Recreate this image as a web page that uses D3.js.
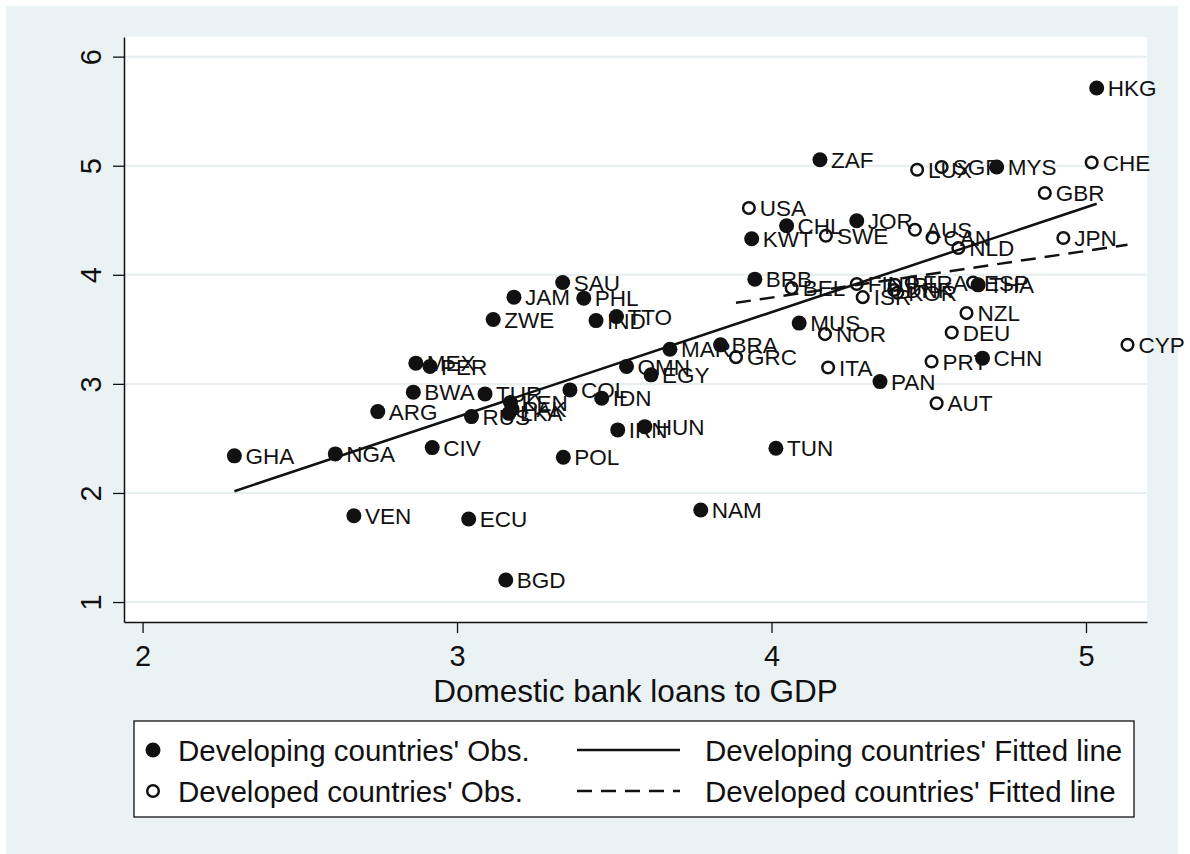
<!DOCTYPE html>
<html>
<head>
<meta charset="utf-8">
<script src="https://cdn.jsdelivr.net/npm/d3@7"></script>
<style>
  body { margin: 0; background: #fff; }
  svg text { font-family: "Liberation Sans", Arial, sans-serif; fill: #111; }
</style>
</head>
<body>
<svg id="chart"></svg>
<script>
// developing countries (filled markers)
const devNames = ['HKG','ZAF','MYS','CHL','JOR','KWT','BRB','SAU','JAM','PHL','ZWE','IND','TTO','MAR','OMN','EGY','BRA','COL','IDN','TUR','KEN','PAK','LKA','RUS','MEX','PER','BWA','ARG','CIV','GHA','NGA','IRN','HUN','POL','VEN','ECU','BGD','NAM','TUN','MUS','PAN','CHN','THA'];
const devX = [5.034,4.154,4.716,4.048,4.271,3.937,3.947,3.336,3.181,3.403,3.115,3.442,3.507,3.677,3.539,3.617,3.838,3.359,3.46,3.089,3.17,3.175,3.165,3.046,2.869,2.914,2.861,2.748,2.921,2.292,2.613,3.511,3.597,3.338,2.672,3.037,3.155,3.775,4.014,4.088,4.345,4.671,4.657];
const devY = [5.713,5.055,4.988,4.45,4.495,4.33,3.96,3.93,3.795,3.786,3.59,3.58,3.617,3.318,3.16,3.083,3.358,2.945,2.869,2.908,2.83,2.77,2.73,2.70,3.19,3.16,2.924,2.746,2.416,2.34,2.358,2.578,2.608,2.328,1.791,1.761,1.202,1.844,2.41,3.557,3.021,3.236,3.908];

// developed countries (hollow markers)
const advNames = ['LUX','SGP','CHE','GBR','USA','SWE','AUS','CAN','NLD','JPN','BEL','FIN','IRL','FRA','ESP','ISR','DNK','KOR','NZL','DEU','NOR','ITA','PRT','AUT','GRC','CYP'];
const advX = [4.463,4.541,5.018,4.869,3.928,4.173,4.456,4.512,4.594,4.928,4.064,4.271,4.392,4.446,4.641,4.29,4.39,4.40,4.62,4.573,4.17,4.18,4.509,4.525,3.887,5.132];
const advY = [4.963,4.988,5.03,4.75,4.612,4.358,4.413,4.342,4.245,4.337,3.878,3.915,3.908,3.93,3.93,3.795,3.86,3.835,3.649,3.471,3.456,3.15,3.205,2.823,3.245,3.358];

// fitted lines (end points)
const devFitX = [2.292, 5.034];
const devFitY = [2.016, 4.651];
const advFitX = [3.887, 5.132];
const advFitY = [3.743, 4.275];

const xTicks = [2, 3, 4, 5];
const yTicks = [1, 2, 3, 4, 5, 6];
const xTitle = 'Domestic bank loans to GDP';
const legendLabels = ["Developing countries' Obs.", "Developed countries' Obs.", "Developing countries' Fitted line", "Developed countries' Fitted line"];

class ScatterChart {
  constructor(_config) {
    this.config = {
      parentElement: _config.parentElement,
      containerWidth: _config.containerWidth,
      containerHeight: _config.containerHeight,
      margin: {top: 37, right: 43, bottom: 232, left: 124},
    }
    this.initVis();
  }

  initVis() {
    let vis = this;

    vis.width = vis.config.containerWidth - vis.config.margin.left - vis.config.margin.right;
    vis.height = vis.config.containerHeight - vis.config.margin.top - vis.config.margin.bottom;

    vis.xScale = d3.scaleLinear().domain([1.941, 5.194]).range([0, vis.width]);
    vis.yScale = d3.scaleLinear().domain([0.817, 6.18]).range([vis.height, 0]);

    vis.svg = d3.select(vis.config.parentElement)
        .attr('width', vis.config.containerWidth)
        .attr('height', vis.config.containerHeight);

    // graph region
    vis.svg.append('rect')
        .attr('x', 6).attr('y', 6)
        .attr('width', 1172).attr('height', 848)
        .attr('fill', '#eaf2f3');

    vis.chart = vis.svg.append('g')
        .attr('transform', `translate(${vis.config.margin.left},${vis.config.margin.top})`);

    // plot region
    vis.chart.append('rect')
        .attr('width', vis.width).attr('height', vis.height)
        .attr('fill', '#fff');

    vis.renderVis();
  }

  renderVis() {
    let vis = this;

    // gridlines
    vis.chart.selectAll('.grid').data(yTicks).join('line')
        .attr('class', 'grid')
        .attr('x1', 0).attr('x2', vis.width)
        .attr('y1', d => vis.yScale(d)).attr('y2', d => vis.yScale(d))
        .attr('stroke', '#e6eef0').attr('stroke-width', 2);

    const xAxis = d3.axisBottom(vis.xScale).tickValues(xTicks).tickFormat(d3.format('d'))
        .tickSize(11).tickPadding(12).tickSizeOuter(0);
    const yAxis = d3.axisLeft(vis.yScale).tickValues(yTicks).tickFormat(d3.format('d'))
        .tickSize(11).tickPadding(12).tickSizeOuter(0);

    const xg = vis.chart.append('g')
        .attr('transform', `translate(0,${vis.height})`)
        .call(xAxis);
    const yg = vis.chart.append('g').call(yAxis);

    [xg, yg].forEach(g => {
      g.select('.domain').attr('stroke', '#111').attr('stroke-width', 1.5);
      g.selectAll('.tick line').attr('stroke', '#111').attr('stroke-width', 1.3);
      g.selectAll('.tick text').attr('font-size', 29).attr('fill', '#111')
        .style('font-family', '"Liberation Sans", Arial, sans-serif');
    });
    yg.selectAll('.tick text')
        .attr('x', 0).attr('dy', 0)
        .attr('text-anchor', 'middle')
        .attr('transform', 'translate(-23,0) rotate(-90)');

    vis.chart.append('text')
        .attr('x', vis.width / 2).attr('y', 665)
        .attr('text-anchor', 'middle')
        .attr('font-size', 31.5)
        .text(xTitle);

    const devData = devNames.map((n, i) => ({name: n, x: devX[i], y: devY[i]}));
    const advData = advNames.map((n, i) => ({name: n, x: advX[i], y: advY[i]}));

    // developing obs
    vis.chart.selectAll('.dev').data(devData).join('circle')
        .attr('class', 'dev')
        .attr('cx', d => vis.xScale(d.x)).attr('cy', d => vis.yScale(d.y))
        .attr('r', 7.5).attr('fill', '#111');
    vis.chart.selectAll('.devlab').data(devData).join('text')
        .attr('class', 'devlab')
        .attr('x', d => vis.xScale(d.x) + 11).attr('y', d => vis.yScale(d.y))
        .attr('dy', '0.36em').attr('font-size', 22.5)
        .text(d => d.name);

    // developed obs
    vis.chart.selectAll('.adv').data(advData).join('circle')
        .attr('class', 'adv')
        .attr('cx', d => vis.xScale(d.x)).attr('cy', d => vis.yScale(d.y))
        .attr('r', 5.8).attr('fill', 'none')
        .attr('stroke', '#111').attr('stroke-width', 2.5);
    vis.chart.selectAll('.advlab').data(advData).join('text')
        .attr('class', 'advlab')
        .attr('x', d => vis.xScale(d.x) + 11).attr('y', d => vis.yScale(d.y))
        .attr('dy', '0.36em').attr('font-size', 22.5)
        .text(d => d.name);

    // fitted lines
    const line = d3.line().x(d => vis.xScale(d[0])).y(d => vis.yScale(d[1]));
    vis.chart.append('path')
        .attr('d', line(devFitX.map((x, i) => [x, devFitY[i]])))
        .attr('fill', 'none').attr('stroke', '#111').attr('stroke-width', 2.5);
    vis.chart.append('path')
        .attr('d', line(advFitX.map((x, i) => [x, advFitY[i]])))
        .attr('fill', 'none').attr('stroke', '#111').attr('stroke-width', 2.5)
        .attr('stroke-dasharray', '15,9');

    // legend
    const lg = vis.svg.append('g');
    lg.append('rect')
        .attr('x', 134).attr('y', 721).attr('width', 1000).attr('height', 96)
        .attr('fill', '#fff').attr('stroke', '#111').attr('stroke-width', 1.3);
    const rows = [750, 791];
    lg.append('circle').attr('cx', 153).attr('cy', rows[0]).attr('r', 7.5).attr('fill', '#111');
    lg.append('circle').attr('cx', 153).attr('cy', rows[1]).attr('r', 5.8)
        .attr('fill', 'none').attr('stroke', '#111').attr('stroke-width', 2.5);
    lg.append('line').attr('x1', 577).attr('x2', 680).attr('y1', rows[0]).attr('y2', rows[0])
        .attr('stroke', '#111').attr('stroke-width', 2.5);
    lg.append('line').attr('x1', 577).attr('x2', 680).attr('y1', rows[1]).attr('y2', rows[1])
        .attr('stroke', '#111').attr('stroke-width', 2.5).attr('stroke-dasharray', '15,9');
    const lpos = [[178, rows[0]], [178, rows[1]], [705, rows[0]], [705, rows[1]]];
    legendLabels.forEach((t, i) => {
      lg.append('text')
          .attr('x', lpos[i][0]).attr('y', lpos[i][1])
          .attr('dy', '0.36em').attr('font-size', 29.5)
          .text(t);
    });
  }
}

new ScatterChart({parentElement: '#chart', containerWidth: 1190, containerHeight: 854});
</script>
</body>
</html>
